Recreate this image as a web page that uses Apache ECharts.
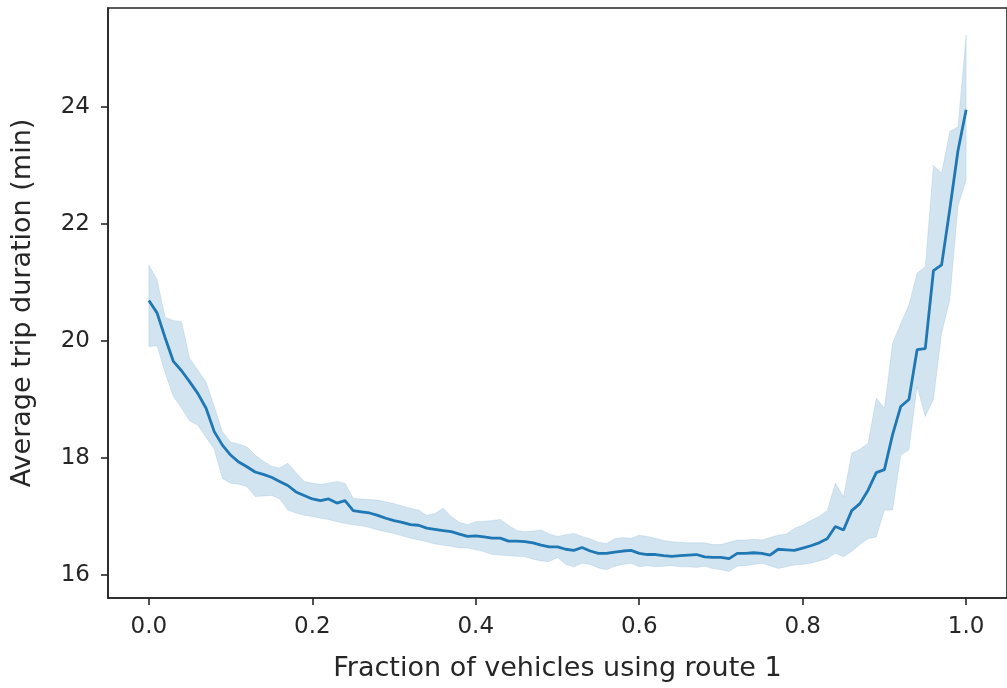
<!DOCTYPE html>
<html>
<head>
<meta charset="utf-8">
<script src="https://cdn.jsdelivr.net/npm/echarts@6/dist/echarts.min.js"></script>
<style>
  html, body { margin: 0; padding: 0; background: #fff; }
  #chart { width: 1007px; height: 688px; }
</style>
</head>
<body>
<div id="chart"></div>
<script>
// fraction of vehicles on route 1, step 0.01
const fractions = Array.from({ length: 101 }, (_, i) => +(i / 100).toFixed(2))

const meanDuration = [
  20.69, 20.48, 20.05, 19.65, 19.49, 19.30, 19.10, 18.85, 18.45, 18.22,
  18.05, 17.93, 17.85, 17.76, 17.72, 17.67, 17.60, 17.53, 17.42, 17.36,
  17.30, 17.27, 17.30, 17.23, 17.27, 17.10, 17.08, 17.06, 17.02, 16.97,
  16.93, 16.90, 16.86, 16.85, 16.80, 16.78, 16.76, 16.74, 16.70, 16.66,
  16.67, 16.65, 16.63, 16.63, 16.58, 16.58, 16.57, 16.55, 16.51, 16.48,
  16.48, 16.44, 16.42, 16.47, 16.41, 16.37, 16.37, 16.39, 16.41, 16.42,
  16.37, 16.35, 16.35, 16.33, 16.32, 16.33, 16.34, 16.35, 16.31, 16.30,
  16.30, 16.28, 16.37, 16.37, 16.38, 16.37, 16.34, 16.44, 16.43, 16.42,
  16.46, 16.50, 16.55, 16.62, 16.83, 16.77, 17.10, 17.22, 17.45, 17.75,
  17.80, 18.40, 18.88, 19.00, 19.85, 19.87, 21.20, 21.30, 22.25, 23.25,
  23.95
]

const upperBound = [
  21.30, 21.05, 20.40, 20.35, 20.33, 19.70, 19.50, 19.30, 18.88, 18.45,
  18.27, 18.24, 18.19, 18.05, 17.95, 17.86, 17.83, 17.91, 17.75, 17.60,
  17.57, 17.55, 17.57, 17.60, 17.57, 17.31, 17.30, 17.29, 17.28, 17.25,
  17.22, 17.18, 17.14, 17.11, 17.02, 17.05, 17.14, 17.00, 16.90, 16.86,
  16.91, 16.92, 16.93, 16.95, 16.85, 16.76, 16.74, 16.75, 16.77, 16.70,
  16.66, 16.69, 16.71, 16.66, 16.62, 16.56, 16.54, 16.62, 16.64, 16.63,
  16.68, 16.66, 16.63, 16.59, 16.57, 16.56, 16.55, 16.55, 16.55, 16.52,
  16.52, 16.56, 16.60, 16.60, 16.61, 16.60, 16.64, 16.68, 16.70, 16.80,
  16.85, 16.93, 17.00, 17.10, 17.57, 17.34, 18.08, 18.15, 18.25, 19.02,
  18.85, 19.96, 20.30, 20.62, 21.16, 21.27, 23.00, 22.87, 23.58, 23.66,
  25.23
]

const lowerBound = [
  19.90, 19.92, 19.45, 19.05, 18.85, 18.63, 18.56, 18.35, 18.15, 17.65,
  17.57, 17.55, 17.51, 17.34, 17.35, 17.36, 17.30, 17.11, 17.06, 17.02,
  17.00, 16.97, 16.95, 16.91, 16.88, 16.86, 16.84, 16.81, 16.77, 16.74,
  16.71, 16.67, 16.63, 16.60, 16.57, 16.53, 16.51, 16.49, 16.46, 16.46,
  16.43, 16.40, 16.35, 16.34, 16.33, 16.32, 16.31, 16.27, 16.24, 16.23,
  16.30, 16.18, 16.14, 16.20, 16.18, 16.12, 16.09, 16.15, 16.18, 16.20,
  16.14, 16.16, 16.14, 16.15, 16.16, 16.14, 16.14, 16.13, 16.15, 16.11,
  16.09, 16.06, 16.15, 16.16, 16.18, 16.20, 16.16, 16.11, 16.14, 16.17,
  16.18, 16.20, 16.24, 16.28, 16.37, 16.31, 16.40, 16.52, 16.62, 16.65,
  17.11, 17.11, 18.05, 18.14, 19.22, 18.71, 19.00, 20.13, 20.70, 22.30,
  22.75
]

const xTicks = [0, 0.2, 0.4, 0.6, 0.8, 1.0]
const yTicks = [16, 18, 20, 22, 24]

const chart = echarts.init(document.getElementById('chart'))

const font = 'DejaVu Sans'
const textColor = '#262626'
const spine = '#262626'

// confidence band as one polygon: upper edge left->right, lower edge right->left
function renderBand(params, api) {
  if (params.dataIndex !== 0) return
  const pts = []
  for (let i = 0; i < fractions.length; i++) pts.push(api.coord([fractions[i], upperBound[i]]))
  for (let i = fractions.length - 1; i >= 0; i--) pts.push(api.coord([fractions[i], lowerBound[i]]))
  return {
    type: 'polygon',
    shape: { points: pts },
    style: { fill: 'rgba(31, 119, 180, 0.2)', stroke: 'rgba(31, 119, 180, 0.12)', lineWidth: 1 }
  }
}

chart.setOption({
  animation: false,
  grid: {
    left: 108, top: 8, right: -11, bottom: 90,
    show: true, borderColor: spine, borderWidth: 1.6, backgroundColor: 'transparent'
  },
  xAxis: {
    type: 'value',
    min: -0.05,
    max: 1.05,
    name: 'Fraction of vehicles using route 1',
    nameLocation: 'middle',
    nameGap: 57,
    nameTextStyle: { fontFamily: font, fontSize: 27, color: textColor },
    axisLine: { show: true, onZero: false, lineStyle: { color: spine, width: 1.6 } },
    splitLine: { show: false },
    axisTick: { show: true, length: 7, lineStyle: { color: spine, width: 1.6 }, customValues: xTicks },
    axisLabel: {
      fontFamily: font, fontSize: 23, color: textColor, margin: 18,
      customValues: xTicks,
      formatter: v => v.toFixed(1)
    }
  },
  yAxis: {
    type: 'value',
    min: 15.607,
    max: 25.69,
    name: 'Average trip duration (min)',
    nameLocation: 'middle',
    nameGap: 72,
    nameTextStyle: { fontFamily: font, fontSize: 27, color: textColor },
    axisLine: { show: true, onZero: false, lineStyle: { color: spine, width: 1.6 } },
    splitLine: { show: false },
    axisTick: { show: true, length: 7, lineStyle: { color: spine, width: 1.6 }, customValues: yTicks },
    axisLabel: {
      fontFamily: font, fontSize: 23, color: textColor, margin: 18,
      customValues: yTicks
    }
  },
  series: [
    {
      type: 'custom',
      renderItem: renderBand,
      clip: true,
      data: fractions.map((x, i) => [x, lowerBound[i], upperBound[i]]),
      encode: { x: 0, y: [1, 2] },
      z: 1
    },
    {
      type: 'line',
      symbol: 'none',
      lineStyle: { color: '#1f77b4', width: 2.8 },
      data: fractions.map((x, i) => [x, meanDuration[i]]),
      z: 2
    }
  ]
})
</script>
</body>
</html>
